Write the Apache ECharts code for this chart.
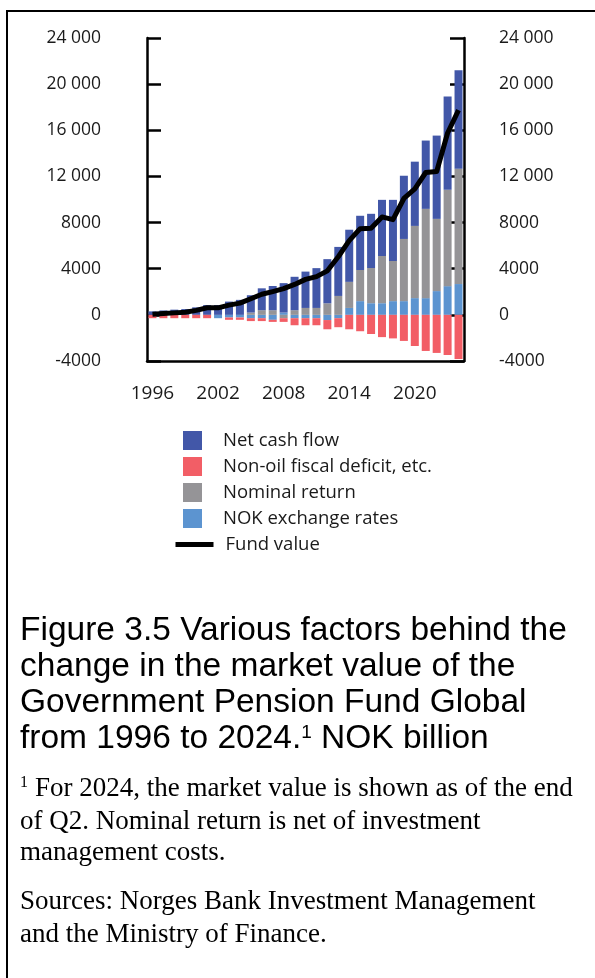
<!DOCTYPE html>
<html>
<head>
<meta charset="utf-8">
<title>Figure 3.5</title>
<script src="https://cdn.jsdelivr.net/npm/echarts@6/dist/echarts.min.js"></script>
<style>
  html, body { margin: 0; padding: 0; background: #fff; }
  #main { width: 595px; height: 978px; }
</style>
</head>
<body>
<div id="main"></div>
<script>
// NOK billion
var years = ['1996', '1997', '1998', '1999', '2000', '2001', '2002', '2003', '2004', '2005',
  '2006', '2007', '2008', '2009', '2010', '2011', '2012', '2013', '2014', '2015',
  '2016', '2017', '2018', '2019', '2020', '2021', '2022', '2023', '2024']
var netCashFlow = [300, 380, 450, 500, 650, 850, 850, 1150, 1300, 1500,
  1900, 2100, 2550, 2900, 3150, 3450, 3830, 4250, 4520, 4700,
  4700, 4870, 5300, 5480, 5570, 5920, 7220, 8090, 8530]
var nonOilDeficit = [-290, -290, -290, -290, -290, -290, 0, -200, -200, -250,
  -250, -180, -320, -610, -610, -610, -800, -780, -1250, -1420,
  -1660, -1930, -2040, -2260, -2700, -3130, -3300, -3480, -3830]
var nominalReturn = [0, 0, 0, 0, 0, 0, 0, 0, 0, 200,
  400, 400, -290, 400, 600, 600, 1000, 1640, 2260, 2700,
  3050, 4090, 3480, 5390, 6260, 7740, 6260, 8350, 10000]
var exchangeRates = [0, 0, 0, 0, 0, 0, -290, -230, -230, -290,
  -290, -430, 200, -290, -290, -290, -450, -290, 600, 1190,
  1010, 1010, 1190, 1190, 1450, 1450, 2060, 2490, 2670]
var fundValue = [48, 113, 172, 222, 386, 614, 609, 845, 1016, 1399,
  1784, 2019, 2275, 2640, 3077, 3312, 3816, 5038, 6431, 7475,
  7510, 8488, 8256, 10088, 10914, 12340, 12429, 15765, 17745]
var yTickLabels = {
  '-4000': '-4000', '0': '0', '4000': '4000', '8000': '8000',
  '12000': '12 000', '16000': '16 000', '20000': '20 000', '24000': '24 000'
}

var chart = echarts.init(document.getElementById('main'))

var textColor = '#1a1a1a'
var blackLine = { color: '#000', width: 2.5 }
var titleFont = '33.5px "Liberation Sans"'
var noteFont = '27px "Liberation Serif"'

function yAxis (pos, margin, align) {
  return {
    type: 'value',
    position: pos,
    min: -4000,
    max: 24000,
    interval: 4000,
    axisLine: { show: true, lineStyle: blackLine },
    axisTick: { show: true, inside: true, length: 14, lineStyle: blackLine },
    splitLine: { show: false },
    axisLabel: {
      margin: margin,
      align: align,
      color: textColor,
      fontFamily: 'Open Sans',
      fontSize: 17.5,
      formatter: function (v) { return yTickLabels[String(v)] }
    }
  }
}

var bar = function (name, data, color) {
  return {
    name: name,
    type: 'bar',
    stack: 'total',
    barWidth: 8,
    itemStyle: { color: color },
    data: data
  }
}

function textLine (top, text, font, rich) {
  return {
    type: 'text',
    left: 20,
    top: top,
    style: { text: text, font: font, fill: '#000', rich: rich }
  }
}

var option = {
  animation: false,
  grid: { left: 147, right: 131, top: 38, bottom: 617 },
  xAxis: {
    type: 'category',
    data: years,
    axisLine: { onZero: false, lineStyle: blackLine },
    axisTick: { show: false },
    axisLabel: { interval: 5, margin: 23, fontSize: 19, color: textColor, fontFamily: 'Open Sans' }
  },
  yAxis: [yAxis('left', 46, 'right'), yAxis('right', 35, 'left')],
  legend: [
    {
      orient: 'vertical',
      left: 183,
      top: 431,
      padding: 0,
      itemWidth: 19,
      itemHeight: 19,
      itemGap: 7,
      icon: 'rect',
      selectedMode: false,
      textStyle: { color: textColor, fontFamily: 'Open Sans', fontSize: 18.5, padding: [0, 0, 0, 16] },
      data: ['Net cash flow', 'Non-oil fiscal deficit, etc.', 'Nominal return', 'NOK exchange rates']
    },
    {
      left: 173,
      top: 535,
      padding: 0,
      itemWidth: 38,
      itemHeight: 19,
      selectedMode: false,
      itemStyle: { opacity: 0 },
      lineStyle: { width: 5, color: '#000' },
      textStyle: { color: textColor, fontFamily: 'Open Sans', fontSize: 18.5, padding: [0, 0, 0, 7] },
      data: ['Fund value']
    }
  ],
  series: [
    bar('NOK exchange rates', exchangeRates, '#5c94d0'),
    bar('Nominal return', nominalReturn, '#959497'),
    bar('Net cash flow', netCashFlow, '#4257a8'),
    bar('Non-oil fiscal deficit, etc.', nonOilDeficit, '#f25e66'),
    {
      name: 'Fund value',
      type: 'line',
      symbol: 'none',
      z: 5,
      lineStyle: { color: '#000', width: 5, join: 'round' },
      itemStyle: { color: '#000' },
      data: fundValue
    }
  ],
  graphic: [
    // frame
    {
      type: 'polyline',
      shape: { points: [[7, 978], [7, 11], [595, 11]] },
      style: { stroke: '#000', lineWidth: 2, fill: null }
    },
    textLine(614, 'Figure 3.5 Various factors behind the', titleFont),
    textLine(650, 'change in the market value of the', titleFont),
    textLine(686, 'Government Pension Fund Global', titleFont),
    textLine(722, 'from 1996 to 2024.{sup|1} NOK billion', titleFont, {
      sup: { fontSize: 19, fontFamily: 'Liberation Sans', verticalAlign: 'top', padding: [1, 0, 0, 0] }
    }),
    textLine(775, '{sup|1}For 2024, the market value is shown as of the end', noteFont, {
      sup: { fontSize: 16, fontFamily: 'Liberation Serif', verticalAlign: 'top', padding: [0, 7, 0, 0] }
    }),
    textLine(808, 'of Q2. Nominal return is net of investment', noteFont),
    textLine(839, 'management costs.', noteFont),
    textLine(888, 'Sources: Norges Bank Investment Management', noteFont),
    textLine(921, 'and the Ministry of Finance.', noteFont)
  ]
}

chart.setOption(option)
</script>
</body>
</html>
